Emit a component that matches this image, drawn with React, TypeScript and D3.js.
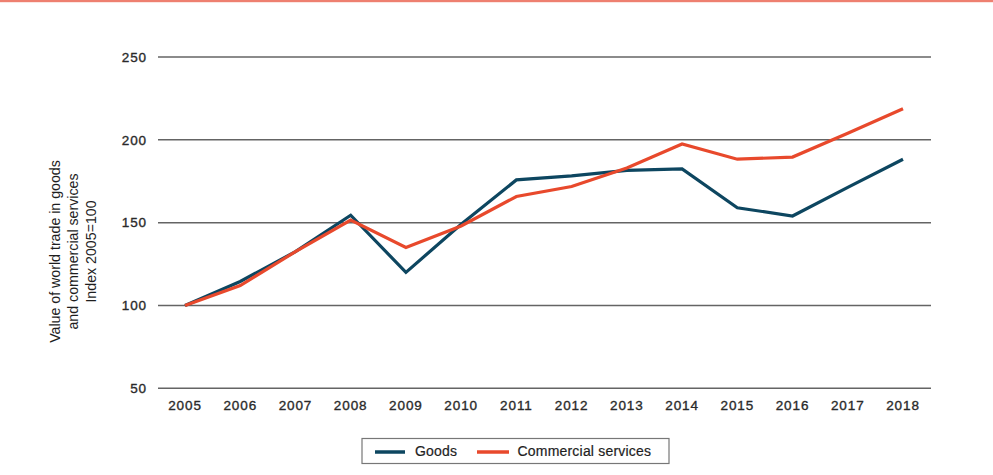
import React from "react";
import * as d3 from "d3";

const years = [2005, 2006, 2007, 2008, 2009, 2010, 2011, 2012, 2013, 2014, 2015, 2016, 2017, 2018];
const goods = [100, 114.5, 132.5, 154.5, 120, 149, 175.8, 178.2, 181.5, 182.4, 159, 154, 171.3, 188.3];
const services = [100, 112, 132.5, 151.5, 135, 148, 165.8, 171.8, 183, 197.5, 188.3, 189.6, 204, 218.8];
const yTicks = [50, 100, 150, 200, 250];
const yLabelLines = ["Value of world trade in goods", "and commercial services", "Index 2005=100"];
const seriesNames = ["Goods", "Commercial services"];
const colors = ["#0d4660", "#e8492c"];

const W = 993;
const H = 475;

export default function App() {
  const x = d3.scalePoint<number>().domain(years).range([185, 903]);
  const y = d3.scaleLinear().domain([50, 250]).range([388.3, 57]);
  const line = d3
    .line<number>()
    .x((_, i) => x(years[i]) as number)
    .y((d) => y(d));
  const font = "'Liberation Sans', Arial, Helvetica, sans-serif";
  const tickColor = "#2a2a2a";
  return (
    <svg
      width={W}
      height={H}
      style={{ position: "absolute", left: 0, top: 0, background: "#fff" }}
      fontFamily={font}
    >
      <rect x={0} y={0} width={W} height={2.2} fill="#ee8070" />
      {yTicks.map((t) => (
        <g key={t}>
          <line x1={158} x2={931} y1={y(t)} y2={y(t)} stroke="#646464" strokeWidth={1.5} />
          <text
            x={147}
            y={y(t)}
            dy="0.35em"
            textAnchor="end"
            fontSize={13.5}
            letterSpacing={0.9}
            fill={tickColor}
            stroke={tickColor}
            strokeWidth={0.35}
          >
            {t}
          </text>
        </g>
      ))}
      {years.map((yr) => (
        <text
          key={yr}
          x={x(yr) as number}
          y={405.5}
          dy="0.35em"
          textAnchor="middle"
          fontSize={13.5}
          letterSpacing={0.9}
          fill={tickColor}
          stroke={tickColor}
          strokeWidth={0.35}
        >
          {yr}
        </text>
      ))}
      <g transform="translate(73,251.5) rotate(-90)">
        {yLabelLines.map((s, i) => (
          <text
            key={s}
            x={0}
            y={(i - 1) * 18.3}
            dy="0.35em"
            textAnchor="middle"
            fontSize={14.2}
            fill="#1e1e1e"
          >
            {s}
          </text>
        ))}
      </g>
      {[goods, services].map((s, i) => (
        <path
          key={i}
          d={line(s) || ""}
          fill="none"
          stroke={colors[i]}
          strokeWidth={3.2}
          strokeLinejoin="miter"
        />
      ))}
      <rect x={362} y={438.5} width={307} height={25} fill="#fff" stroke="#777" strokeWidth={1.2} />
      <line x1={375} x2={405} y1={452} y2={452} stroke={colors[0]} strokeWidth={3.5} />
      <text x={415} y={451} dy="0.35em" fontSize={14} letterSpacing={0.2} fill="#1e1e1e" stroke="#1e1e1e" strokeWidth={0.2}>
        {seriesNames[0]}
      </text>
      <line x1={477} x2={509} y1={452} y2={452} stroke={colors[1]} strokeWidth={3.5} />
      <text x={517.5} y={451} dy="0.35em" fontSize={14} letterSpacing={0.2} fill="#1e1e1e" stroke="#1e1e1e" strokeWidth={0.2}>
        {seriesNames[1]}
      </text>
    </svg>
  );
}
